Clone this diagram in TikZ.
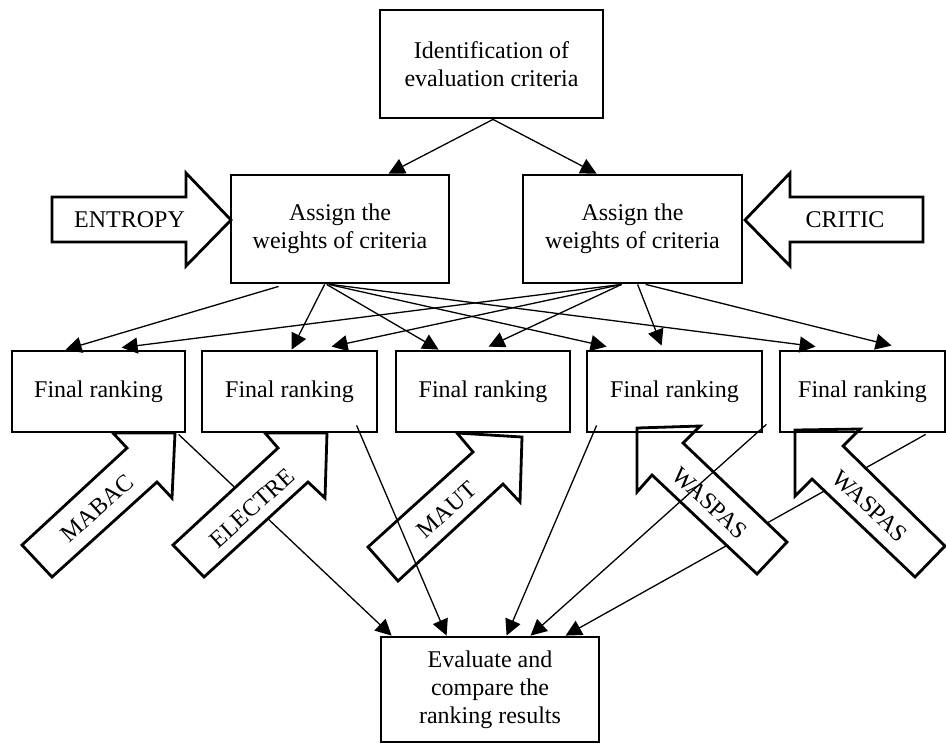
\documentclass[tikz,border=0pt]{standalone}
\usepackage{fontspec}
\setmainfont{Liberation Serif}
\usetikzlibrary{arrows.meta,calc}
\pgfdeclarelayer{bg}
\pgfsetlayers{bg,main}
\newcommand\fsz{\fontsize{12}{14}\selectfont}
\tikzset{
  box/.style={draw, line width=1.4pt, align=center, inner sep=0pt, font=\fsz},
  conn/.style={line width=0.65pt, -{Triangle[length=8pt,width=8pt]}},
  blk/.style={draw, line width=1.4pt, fill=white, line join=miter},
  lbl/.style={font=\fsz, inner sep=0pt}
}
\begin{document}
\begin{tikzpicture}[x=0.5pt,y=-0.5pt]
\useasboundingbox (0,0) rectangle (946,745);

% block arrows (white filled)
\draw[blk] (52,197) -- (186,197) -- (186,173) -- (231,220) -- (186,266) -- (186,242) -- (52,242) -- cycle;
\node[lbl] (entropy) at (129.5,220) {ENTROPY};
\draw[blk] (745,220) -- (790,173) -- (790,197) -- (923,197) -- (923,242) -- (790,242) -- (790,266) -- cycle;
\node[lbl] (critic) at (845,220) {CRITIC};

\draw[blk] (113,433) -- (127,448) -- (22,545) -- (52,577) -- (157,482) -- (172,498) -- (175,433) -- cycle;
\node[lbl, rotate=42] (mabac) at (97,508) {MABAC};
\draw[blk] (265,433) -- (278,448) -- (173,545) -- (204,577) -- (308,482) -- (325,498) -- (327,433) -- cycle;
\node[lbl, rotate=42] (electre) at (252,508) {ELECTRE};
\draw[blk] (457,433) -- (473,452) -- (368,547) -- (398,581) -- (503,484) -- (520,502) -- (522,437) -- cycle;
\node[lbl, rotate=42] (maut) at (447,510) {MAUT};
\draw[blk] (637,428) -- (700,426) -- (683,443) -- (787,542) -- (757,574) -- (652,475) -- (637,492) -- cycle;
\node[lbl, rotate=-43] (waspasa) at (710,503) {WASPAS};
\draw[blk] (795,430) -- (860,429) -- (843,446) -- (945,546) -- (915,577) -- (812,479) -- (795,496) -- cycle;
\node[lbl, rotate=-43] (waspasb) at (870,506) {WASPAS};

% boxes
\node[box, minimum width=111.5pt, minimum height=54pt] (top) at (491.5,64) {Identification of\\evaluation criteria};
\node[box, minimum width=109pt, minimum height=54pt] (wl) at (340,229) {Assign the\\weights of criteria};
\node[box, minimum width=109.5pt, minimum height=54pt] (wr) at (632.5,229) {Assign the\\weights of criteria};
\node[box, minimum width=86.5pt, minimum height=40.5pt] (f1) at (98.5,391.5) {Final ranking};
\node[box, minimum width=87.5pt, minimum height=40.5pt] (f2) at (289.5,391.5) {Final ranking};
\node[box, minimum width=87pt, minimum height=40.5pt] (f3) at (483,391.5) {Final ranking};
\node[box, minimum width=87.5pt, minimum height=40.5pt] (f4) at (674.5,391.5) {Final ranking};
\node[box, minimum width=82.5pt, minimum height=40.5pt] (f5) at (862.5,391.5) {Final ranking};
\node[box, minimum width=109pt, minimum height=52.5pt] (bot) at (490,689.5) {Evaluate and\\compare the\\ranking results};

% top to weights
\draw[conn] ($(top.south)+(1.5,0)$) -- ($(wl.north west)+(159,0)$);
\draw[conn] ($(top.south)+(1.5,0)$) -- ($(wr.north west)+(75,0)$);

% left weights to rankings
\draw[conn] ($(wl.south west)+(49,2)$) -- ($(f1.north west)+(55,0)$);
\draw[conn] ($(wl.south west)+(95,0)$) -- ($(f2.north west)+(91,0)$);
\draw[conn] ($(wl.south west)+(97,0)$) -- ($(f3.north west)+(44,0)$);
\draw[conn] ($(wl.south west)+(99,0)$) -- ($(f4.north west)+(21,-3)$);
\draw[conn] ($(wl.south west)+(101,0)$) -- ($(f5.north west)+(37,-3)$);

% right weights to rankings
\draw[conn] ($(wr.south west)+(100,0)$) -- ($(f1.north west)+(111,-2)$);
\draw[conn] ($(wr.south west)+(100,0)$) -- ($(f2.north west)+(131,-3)$);
\draw[conn] ($(wr.south west)+(100,0)$) -- ($(f3.north west)+(94,-3)$);
\draw[conn] ($(wr.south west)+(116,0)$) -- ($(f4.north west)+(76,-4)$);
\draw[conn] ($(wr.south west)+(124,0)$) -- ($(f5.north west)+(113,-4)$);

% rankings to bottom box
\begin{pgfonlayer}{bg}
\draw[conn] ($(f1.south west)+(168,1)$) -- ($(bot.north west)+(12,0)$);
\draw[conn] ($(f5.south west)+(147,1)$) -- ($(bot.north west)+(186,0)$);
\end{pgfonlayer}
\draw[conn] ($(f2.south west)+(156,-8)$) -- ($(bot.north west)+(67,0)$);
\draw[conn] ($(f4.south west)+(11,-8)$) -- ($(bot.north west)+(127,0)$);
\draw[conn] ($(f4.south east)+(3,-9)$) -- ($(bot.north west)+(151,0)$);
\end{tikzpicture}
\end{document}
